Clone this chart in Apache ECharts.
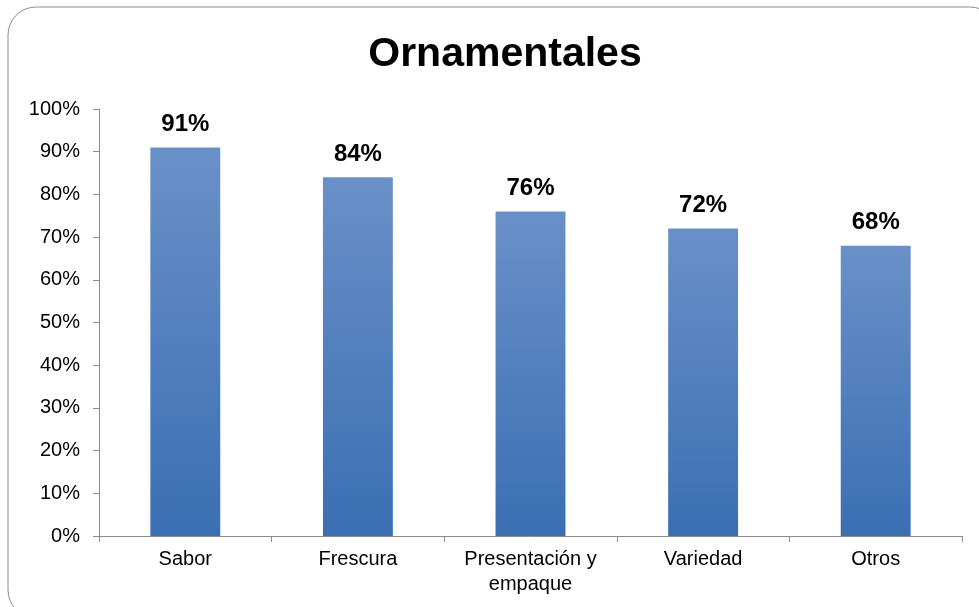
<!DOCTYPE html>
<html>
<head>
<meta charset="utf-8">
<script src="https://cdn.jsdelivr.net/npm/echarts@6/dist/echarts.min.js"></script>
<style>
  html, body { margin: 0; padding: 0; background: #fff; }
  #a { width: 979px; height: 607px; }
</style>
</head>
<body>
<div id="a"></div>
<script>
// datos
var categorias = ['Sabor', 'Frescura', 'Presentación y\nempaque', 'Variedad', 'Otros'];
var valores = [91, 84, 76, 72, 68];
var titulo = 'Ornamentales';

var myechart = echarts.init(document.getElementById('a'));
var option = {
  backgroundColor: '#fff',
  textStyle: { fontFamily: 'Liberation Sans, Arial, sans-serif' },
  graphic: [{
    type: 'rect',
    shape: { x: 8, y: 7, width: 990, height: 611, r: 28 },
    style: { fill: 'none', stroke: '#8c8c8c', lineWidth: 1 },
    silent: true
  }],
  title: {
    text: titulo,
    left: 500,
    textAlign: 'center',
    top: 29,
    textStyle: { fontSize: 41, fontWeight: 'bold', color: '#000', fontFamily: 'Liberation Sans, Arial, sans-serif' }
  },
  grid: { left: 99, right: 17, top: 109, bottom: 71, containLabel: false },
  xAxis: {
    type: 'category',
    data: categorias,
    axisLine: { lineStyle: { color: '#8c8c8c' } },
    axisTick: { show: true, length: 6, lineStyle: { color: '#8c8c8c' } },
    axisLabel: { color: '#000', fontSize: 20, margin: 11, lineHeight: 25 }
  },
  yAxis: {
    type: 'value',
    min: 0,
    max: 100,
    interval: 10,
    splitLine: { show: false },
    axisLine: { show: true, lineStyle: { color: '#8c8c8c' } },
    axisTick: { show: true, length: 6, lineStyle: { color: '#8c8c8c' } },
    axisLabel: { color: '#000', fontSize: 20, margin: 19, formatter: '{value}%' }
  },
  series: [{
    type: 'bar',
    data: valores,
    barWidth: '40.5%',
    itemStyle: {
      color: new echarts.graphic.LinearGradient(0, 0, 0, 1, [
        { offset: 0, color: '#6a90c8' },
        { offset: 1, color: '#3a6fb3' }
      ])
    },
    label: {
      show: true,
      position: 'top',
      distance: 11,
      formatter: '{c}%',
      fontSize: 24,
      fontWeight: 'bold',
      color: '#000'
    }
  }]
};
myechart.setOption(option);
</script>
</body>
</html>
